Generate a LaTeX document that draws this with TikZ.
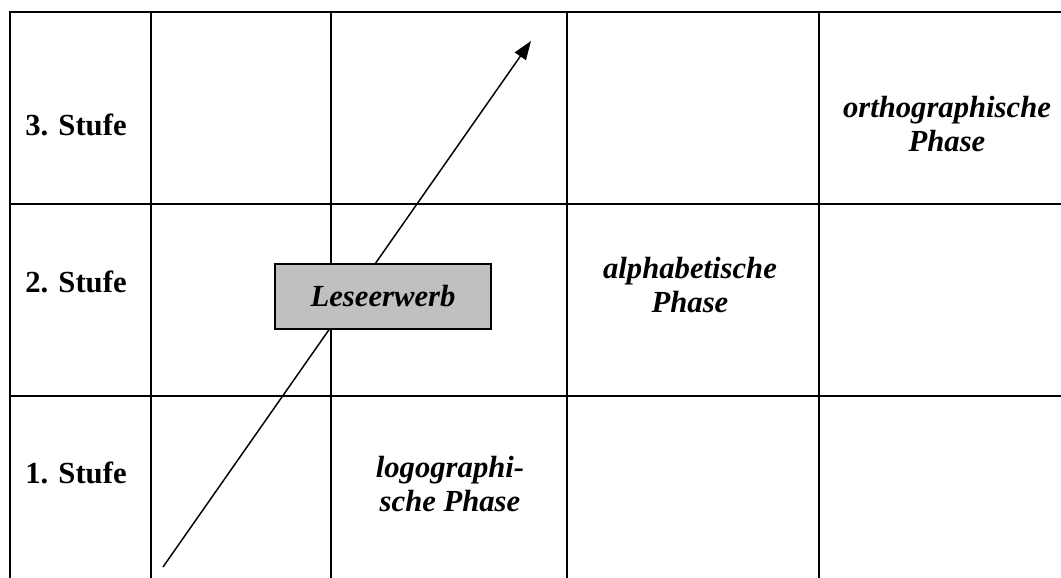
\documentclass[tikz,border=0pt]{standalone}
\usepackage{fontspec}
\setmainfont{Liberation Serif}
\usetikzlibrary{arrows.meta,positioning}
\definecolor{BoxGrey}{HTML}{C0C0C0}

\begin{document}
\begin{tikzpicture}[
  x=0.75pt,y=-0.75pt,
  every node/.style={font=\fontsize{23}{25.5}\selectfont\bfseries,inner sep=0pt},
  gridline/.style={line width=1.8pt,black},
  stufe/.style={anchor=west},
  phase/.style={font=\fontsize{23}{25.5}\selectfont\bfseries\itshape,align=center},
  lbox/.style={draw=black,line width=1.4pt,fill=BoxGrey,minimum width=162pt,minimum height=48.75pt,
    font=\fontsize{23}{25.5}\selectfont\bfseries\itshape},
  arr/.style={-{Triangle[length=14pt,width=10pt]},line width=1.1pt}
]
\useasboundingbox (0,0) rectangle (1061,578);
% table
\foreach \y in {12,204,396} \draw[gridline] (9,\y) -- (1061,\y);
\foreach \x in {10,151,331,567,819} \draw[gridline] (\x,12) -- (\x,578);
% row labels
\node[stufe] (s3) at (25,125) {3. Stufe};
\node[stufe] (s2) at (25,282) {2. Stufe};
\node[stufe] (s1) at (25,473) {1. Stufe};
% phases
\node[phase] (ortho) at (947,124) {orthographische\\Phase};
\node[phase] (alpha) at (690,285) {alphabetische\\Phase};
\node[phase] (logo) at (450,484) {logographi-\\sche Phase};
% arrow behind the box
\coordinate (a0) at (163,567);
\coordinate (a1) at (531,41);
\draw[arr] (a0) -- (a1);
\node[lbox] (lese) at (383,296.5) {Leseerwerb};
\end{tikzpicture}
\end{document}
